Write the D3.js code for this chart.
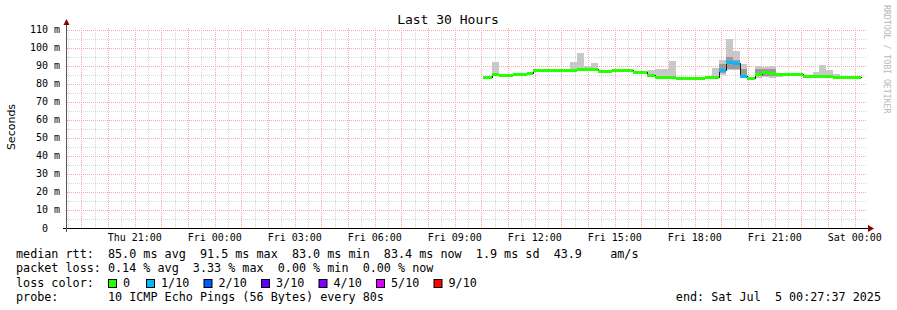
<!DOCTYPE html>
<html>
<head>
<meta charset="utf-8">
<script src="https://cdn.jsdelivr.net/npm/d3@7"></script>
<style>
body { margin:0; background:#fff; }
svg text { white-space: pre; }
</style>
</head>
<body>
<div id="chart"></div>
<script>
// graph window (30 hours ending at the "end:" stamp)
var graphEnd = "2025-07-05T00:27:37";
var hours = 30;

// consolidated buckets: start time, median rtt, smoke band (ms), lost pings of 10
var bucketStart = ["2025-07-04T10:04","2025-07-04T10:23","2025-07-04T10:40","2025-07-04T11:12","2025-07-04T11:43",
  "2025-07-04T11:56","2025-07-04T13:19","2025-07-04T13:35","2025-07-04T13:51","2025-07-04T14:07",
  "2025-07-04T14:22","2025-07-04T14:54","2025-07-04T15:41","2025-07-04T16:13","2025-07-04T16:31",
  "2025-07-04T17:02","2025-07-04T17:18","2025-07-04T17:52","2025-07-04T18:07","2025-07-04T18:23",
  "2025-07-04T18:39","2025-07-04T18:55","2025-07-04T19:10","2025-07-04T19:26","2025-07-04T19:42",
  "2025-07-04T19:58","2025-07-04T20:15","2025-07-04T20:31","2025-07-04T20:47","2025-07-04T21:03",
  "2025-07-04T21:18","2025-07-04T22:04","2025-07-04T22:26","2025-07-04T22:40","2025-07-04T22:55",
  "2025-07-04T23:11","2025-07-04T23:27"];
var lastBucketEnd = "2025-07-05T00:14";
var medianMs = [84.0,85.6,85.1,85.4,86.3, 87.8,87.9,88.5,88.4,88.1, 87.0,87.8,86.7,84.9,84.1,
  84.1,83.4,83.2,83.5,83.9, 84.1,87.8,92.2,91.5,84.7, 83.4,85.3,86.4,85.9,85.4,
  85.4,84.4,84.4,84.4,84.5, 84.1,84.1];
var smokeLoMs = [83.7,85.2,84.8,84.9,86.0, 87.5,87.5,87.6,87.7,87.6, 86.6,87.5,86.4,84.5,83.7,
  83.7,83.1,82.9,83.2,83.6, 83.7,85.0,87.8,87.8,84.0, 83.0,83.4,83.8,83.6,84.0,
  85.0,84.0,84.0,84.0,84.0, 83.7,83.7];
var smokeHiMs = [84.3,92.2,85.5,86.2,86.7, 88.2,92.2,97.3,89.8,91.8, 87.4,88.2,87.0,87.9,88.6,
  92.8,83.8,83.6,83.8,84.2, 88.8,93.3,105.0,98.3,90.9, 84.0,90.0,89.7,90.0,86.0,
  85.8,84.8,86.7,90.7,87.8, 85.6,84.5];
var innerLoMs = [null,null,null,null,null, null,null,null,null,null, null,null,null,null,null,
  null,null,null,null,null, null,86.0,88.5,88.2,84.5, null,84.2,84.4,84.2,null,
  null,null,null,null,null, null,null];
var innerHiMs = [null,null,null,null,null, null,null,null,null,null, null,null,null,null,null,
  null,null,null,null,null, null,91.0,95.2,93.3,88.5, null,88.6,88.4,88.6,null,
  null,null,null,null,null, null,null];
var lossCount = [0,0,0,0,0, 0,0,0,0,0, 0,0,0,0,0, 0,0,0,0,0, 0,1,1,1,1, 0,0,0,0,0, 0,0,0,0,0, 0,0];

var yTicksMs = [0,10,20,30,40,50,60,70,80,90,100,110];
var lossLabels = ["0","1/10","2/10","3/10","4/10","5/10","9/10"];
var lossColors = ["#26ff00","#00b8ff","#0059ff","#5e00ff","#7e00ff","#dd00ff","#ff0000"];
var legendLines = [
  "median rtt:  85.0 ms avg  91.5 ms max  83.0 ms min  83.4 ms now  1.9 ms sd  43.9    am/s",
  "packet loss: 0.14 % avg  3.33 % max  0.00 % min  0.00 % now",
  "loss color:",
  "probe:       10 ICMP Echo Pings (56 Bytes) every 80s"
];
var endText = "end: Sat Jul  5 00:27:37 2025";

var W = 897, H = 310;
var mono = "'DejaVu Sans Mono', monospace";
var parse = function(s){ return new Date(s); };
var tEnd = parse(graphEnd);
var tStart = new Date(tEnd.getTime() - hours*3600*1000);

var svg = d3.select("#chart").append("svg")
    .attr("width", W).attr("height", H)
    .attr("xml:space", "preserve");

var x = d3.scaleTime().domain([tStart, tEnd]).range([67, 867]);
var y = d3.scaleLinear().domain([0, 111.111]).range([228, 28]);
var px = function(t){ return Math.round(x(t)); };
var py = function(v){ return Math.round(y(v)); };

// grid
var grid = svg.append("g").attr("shape-rendering", "crispEdges");
var minorX = d3.timeMinute.every(30).range(tStart, tEnd).filter(function(d){ return d.getMinutes() !== 0; });
var majorX = d3.timeHour.every(1).range(tStart, tEnd);
function vlines(data, col){
  grid.append("g").selectAll("line").data(data).enter().append("line")
    .attr("x1", function(d){ return px(d) + 0.5; }).attr("x2", function(d){ return px(d) + 0.5; })
    .attr("y1", 28).attr("y2", 228)
    .attr("stroke", col).attr("stroke-dasharray", "1,1");
}
function hlines(data, col){
  grid.append("g").selectAll("line").data(data).enter().append("line")
    .attr("y1", function(d){ return py(d) + 0.5; }).attr("y2", function(d){ return py(d) + 0.5; })
    .attr("x1", 67).attr("x2", 867)
    .attr("stroke", col).attr("stroke-dasharray", "1,1");
}
vlines(minorX, "#d6d6d6");
hlines(d3.range(5, 111, 10), "#d6d6d6");
vlines(majorX, "#f4a8a8");
hlines(yTicksMs.slice(1), "#f4a8a8");

// buckets
var buckets = bucketStart.map(function(s, i){
  return { t0: parse(s), t1: parse(i < bucketStart.length-1 ? bucketStart[i+1] : lastBucketEnd),
           med: medianMs[i], lo: smokeLoMs[i], hi: smokeHiMs[i],
           ilo: innerLoMs[i], ihi: innerHiMs[i], loss: lossCount[i] };
});

// smoke
var smoke = svg.append("g").attr("shape-rendering", "crispEdges");
smoke.append("g").selectAll("rect").data(buckets).enter().append("rect")
    .attr("x", function(d){ return px(d.t0); })
    .attr("width", function(d){ return px(d.t1) - px(d.t0); })
    .attr("y", function(d){ return py(d.hi); })
    .attr("height", function(d){ return py(d.lo) - py(d.hi); })
    .attr("fill", "#c8c8c8");
smoke.append("g").selectAll("rect").data(buckets.filter(function(d){ return d.ilo != null; })).enter().append("rect")
    .attr("x", function(d){ return px(d.t0); })
    .attr("width", function(d){ return px(d.t1) - px(d.t0); })
    .attr("y", function(d){ return py(d.ihi); })
    .attr("height", function(d){ return py(d.ilo) - py(d.ihi); })
    .attr("fill", "#9a9a9a");

// thin median step line
var stepPts = buckets.map(function(d){ return [d.t0, d.med]; });
stepPts.push([buckets[buckets.length-1].t1, buckets[buckets.length-1].med]);
svg.append("path")
    .attr("d", d3.line().curve(d3.curveStepAfter)
        .x(function(d){ return px(d[0]) + 0.5; }).y(function(d){ return py(d[1]) + 0.5; })(stepPts))
    .attr("fill", "none").attr("stroke", "#202020").attr("stroke-width", 1)
    .attr("shape-rendering", "crispEdges");

// loss-coloured median
svg.append("g").attr("shape-rendering", "crispEdges")
    .selectAll("line").data(buckets).enter().append("line")
    .attr("x1", function(d){ return px(d.t0); })
    .attr("x2", function(d){ return px(d.t1); })
    .attr("y1", function(d){ return py(d.med) + 0.5; })
    .attr("y2", function(d){ return py(d.med) + 0.5; })
    .attr("stroke", function(d){ return lossColors[d.loss]; })
    .attr("stroke-width", 3);

// axes
var axes = svg.append("g").attr("shape-rendering", "crispEdges");
axes.append("line").attr("x1", 63).attr("x2", 869).attr("y1", 228.5).attr("y2", 228.5).attr("stroke", "#000");
axes.append("line").attr("x1", 66.5).attr("x2", 66.5).attr("y1", 232).attr("y2", 24).attr("stroke", "#555");
svg.append("path").attr("d", "M868,225 L874,228.5 L868,232 Z").attr("fill", "#8b0000");
svg.append("path").attr("d", "M63.5,25 L66.5,19 L69.5,25 Z").attr("fill", "#8b0000");

// y tick labels
svg.append("g").selectAll("text").data(yTicksMs).enter().append("text")
    .attr("x", 60).attr("y", function(d){ return y(d) + 3.5; })
    .attr("text-anchor", "end")
    .style("font-family", mono).style("font-size", "10px")
    .text(function(d){ return d === 0 ? "0  " : d + " m"; });

// x tick labels
var labelTimes = d3.timeHour.every(3).range(tStart, tEnd);
var fmt = d3.timeFormat("%a %H:%M");
svg.append("g").selectAll("text").data(labelTimes).enter().append("text")
    .attr("x", function(d){ return x(d); }).attr("y", 241)
    .attr("text-anchor", "middle")
    .style("font-family", mono).style("font-size", "10px")
    .text(function(d){ return fmt(d); });

// title, axis title, watermark
svg.append("text").attr("x", 448).attr("y", 24).attr("text-anchor", "middle")
    .style("font-family", mono).style("font-size", "13px").text("Last 30 Hours");
svg.append("text").attr("transform", "translate(15,127) rotate(-90)").attr("text-anchor", "middle")
    .style("font-family", "'DejaVu Sans', sans-serif").style("font-size", "11px").text("Seconds");
svg.append("text").attr("transform", "translate(884,5) rotate(90)")
    .style("font-family", mono).style("font-size", "8.2px").attr("fill", "#b8b8b8")
    .text("RRDTOOL / TOBI OETIKER");

// legend
var legY = [258, 272, 286.5, 300.5];
svg.append("g").selectAll("text").data(legendLines).enter().append("text")
    .attr("x", 16).attr("y", function(d, i){ return legY[i]; })
    .style("font-family", mono).style("font-size", "11.75px")
    .text(function(d){ return d; });
var lossItems = svg.append("g").selectAll("g").data(lossLabels).enter().append("g")
    .attr("transform", function(d, i){ return "translate(" + (108 + (i > 0 ? 38 + (i-1)*57.5 : 0)) + ",0)"; });
lossItems.append("rect").attr("x", 0.5).attr("y", 279.5).attr("width", 8).attr("height", 8)
    .attr("fill", function(d, i){ return lossColors[i]; }).attr("stroke", "#000");
lossItems.append("text").attr("x", 15).attr("y", legY[2])
    .style("font-family", mono).style("font-size", "11.75px")
    .text(function(d){ return d; });
svg.append("text").attr("x", 881).attr("y", legY[3]).attr("text-anchor", "end")
    .style("font-family", mono).style("font-size", "11.75px").text(endText);
</script>
</body>
</html>
